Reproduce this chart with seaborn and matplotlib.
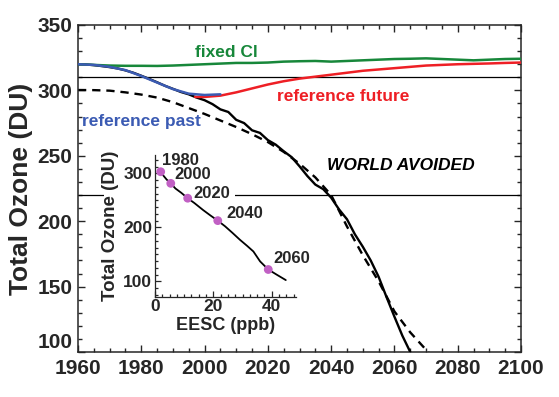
import matplotlib
matplotlib.use("Agg")
import matplotlib.pyplot as plt
from matplotlib.patches import Rectangle
from matplotlib.ticker import MultipleLocator
import seaborn as sns

# main panel, total ozone (DU) against year
fixed_years = [1960, 1965, 1970, 1975, 1980, 1985, 1990, 1995, 2000, 2005, 2010,
               2015, 2020, 2025, 2030, 2035, 2040, 2045, 2050, 2055, 2060, 2065,
               2070, 2075, 2080, 2085, 2090, 2095, 2100]
fixed_cl = [320, 319.5, 319, 318.8, 318.8, 318.7, 319, 319.5, 320, 320.5, 321,
            321, 321.3, 322, 322.3, 322.5, 322, 322.5, 323, 323.5, 324, 324.2,
            324.5, 324, 323.5, 323, 323.5, 324, 324.2]

past_years = [1960, 1965, 1970, 1975, 1980, 1985, 1990, 1995, 2000, 2005]
ref_past = [320, 319.5, 318, 315.5, 311, 306, 301, 297.5, 296.5, 297]

future_years = [1997, 2000, 2005, 2010, 2015, 2020, 2025, 2030, 2035, 2040, 2045,
                2050, 2055, 2060, 2065, 2070, 2075, 2080, 2085, 2090, 2095, 2100]
ref_future = [295, 295, 296, 298.5, 301.5, 304.5, 307, 309, 310.5, 312, 313.5,
              315, 316, 317, 318, 319, 319.5, 320, 320.3, 320.6, 321, 321.3]

avoided_years = [1960, 1962.5, 1965, 1967.5, 1970, 1972.5, 1975, 1977.5, 1980,
                 1982.5, 1985, 1987.5, 1990, 1992.5, 1995, 1997.5, 2000, 2002.5,
                 2005, 2007.5, 2010, 2012.5, 2015, 2017.5, 2020, 2022.5, 2025,
                 2027.5, 2030, 2032.5, 2035, 2037.5, 2040, 2042.5, 2045, 2047.5,
                 2050, 2052.5, 2055, 2057.5, 2060, 2062.5, 2065]
world_avoided = [320, 319.8, 319.3, 318.6, 317.8, 316.8, 315.3, 313.5, 311.2,
                 308.8, 306.2, 303.5, 301.2, 298.8, 297, 294.5, 292.5, 289.5,
                 285.5, 283.5, 277.5, 275, 269.5, 267.5, 262, 258.5, 253.5,
                 249, 242, 234.5, 228, 224.5, 218, 209, 201.5, 190, 180.5, 170,
                 157.5, 142, 127, 112.5, 100]

fit_years = [1960, 1965, 1970, 1975, 1980, 1985, 1990, 1995, 2000, 2005, 2010,
             2015, 2020, 2025, 2030, 2035, 2040, 2045, 2050, 2055, 2060, 2065,
             2071]
ozone_fit = [300.3, 300.2, 299.8, 298.5, 296.8, 294.5, 291, 286.5, 282, 277, 272,
             266.5, 260.5, 253, 244, 233.5, 220, 196, 174, 154, 131, 115, 99]

ref_levels = [310, 220]

# inset, ozone against EESC (ppb)
eesc = [1.5, 1.95, 3, 4, 5.4, 7, 9, 11.2, 13.5, 16.5, 19, 21.5, 24, 26.5, 29.1,
        31.5, 33.7, 36, 38.8, 41.7, 44.8]
eesc_ozone = [308, 303, 295, 288.5, 281.5, 272, 264, 254, 245, 232, 222, 212.5,
              202, 190, 177, 166, 155.4, 137, 122, 112.4, 102.4]
mark_labels = ["1980", "2000", "2020", "2040", "2060"]
mark_eesc = [1.95, 5.4, 11.2, 21.5, 38.8]
mark_ozone = [303, 281.5, 254, 212.5, 122]
mark_offsets = [(1, 8.4), (2.9, 6.5), (4.3, 3.6), (6.5, 5), (3.6, 8)]

GREEN = "#17873a"
BLUE = "#3b5bb3"
RED = "#ee1f25"
PURPLE = "#c160c4"

sns.set_style("ticks")
plt.rcParams["font.family"] = ["Liberation Sans", "DejaVu Sans"]
plt.rcParams["font.weight"] = "bold"

fig = plt.figure(figsize=(5.59, 3.97), dpi=100)
ax = fig.add_axes([78 / 559, 1 - 352 / 397, 443 / 559, 327 / 397])

for lev in ref_levels:
    ax.axhline(lev, color="black", lw=0.9, zorder=1)

# white box behind the inset, hides the reference line there
ax.add_patch(Rectangle((104 / 559, 1 - 300 / 397), 131 / 559, 150 / 397,
                       transform=fig.transFigure, facecolor="white",
                       edgecolor="none", zorder=1.5))

sns.lineplot(x=fit_years, y=ozone_fit, ax=ax, color="black", lw=1.7,
             linestyle=(0, (3.5, 2.5)), zorder=2)
sns.lineplot(x=avoided_years, y=world_avoided, ax=ax, color="black", lw=1.7,
             zorder=3)
sns.lineplot(x=fixed_years, y=fixed_cl, ax=ax, color=GREEN, lw=1.8, zorder=4)
sns.lineplot(x=future_years, y=ref_future, ax=ax, color=RED, lw=1.8, zorder=4)
sns.lineplot(x=past_years, y=ref_past, ax=ax, color=BLUE, lw=1.8, zorder=5)

ax.set_xlim(1960, 2100)
ax.set_ylim(100, 350)
ax.xaxis.set_major_locator(MultipleLocator(20))
ax.xaxis.set_minor_locator(MultipleLocator(5))
ax.yaxis.set_major_locator(MultipleLocator(50))
ax.yaxis.set_minor_locator(MultipleLocator(10))
ax.tick_params(which="both", direction="in", top=True, right=True, width=1,
               labelsize=15, pad=4)
ax.tick_params(axis="x", pad=5)
ax.tick_params(which="major", length=5)
ax.tick_params(which="minor", length=3)
for lab in ax.get_xticklabels() + ax.get_yticklabels():
    lab.set_fontweight("bold")
# lowest y label sits just above the corner, as in the original
for tick in ax.yaxis.get_major_ticks():
    if tick.get_loc() == 100:
        tick.label1.set_verticalalignment("bottom")
for sp in ax.spines.values():
    sp.set_linewidth(1.1)
ax.set_xlabel("")
ax.set_ylabel("Total Ozone (DU)", fontsize=19, fontweight="bold", labelpad=3)

ax.text(2007, 328.6, "fixed Cl", color=GREEN, fontsize=12.5, fontweight="bold",
        ha="center", va="center")
ax.text(1980.2, 276, "reference past", color=BLUE, fontsize=12.5,
        fontweight="bold", ha="center", va="center")
ax.text(2043.8, 295.2, "reference future", color=RED, fontsize=12.5,
        fontweight="bold", ha="center", va="center")
ax.text(2062, 242.4, "WORLD AVOIDED", color="black", fontsize=12.5,
        fontweight="bold", fontstyle="italic", ha="center", va="center")

# inset
axin = fig.add_axes([155 / 559, 1 - 296.5 / 397, 141 / 559, 141.5 / 397])
axin.set_facecolor("none")
sns.lineplot(x=eesc, y=eesc_ozone, ax=axin, color="black", lw=1.3)
sns.scatterplot(x=mark_eesc, y=mark_ozone, ax=axin, color=PURPLE, s=40,
                edgecolor="none", zorder=5)
for lab, xv, yv, off in zip(mark_labels, mark_eesc, mark_ozone, mark_offsets):
    axin.annotate(lab, (xv, yv), xytext=off, textcoords="offset points",
                  fontsize=12, fontweight="bold", ha="left", va="center")

axin.set_xlim(0, 48.3)
axin.set_ylim(72, 334)
axin.xaxis.set_major_locator(MultipleLocator(20))
axin.xaxis.set_minor_locator(MultipleLocator(2.5))
axin.yaxis.set_major_locator(MultipleLocator(100))
axin.yaxis.set_minor_locator(MultipleLocator(12.5))
axin.tick_params(which="both", direction="in", width=0.9, labelsize=12.5,
                 pad=2)
axin.tick_params(which="major", length=4)
axin.tick_params(which="minor", length=2.5)
for lab in axin.get_xticklabels() + axin.get_yticklabels():
    lab.set_fontweight("bold")
axin.spines["top"].set_visible(False)
axin.spines["right"].set_visible(False)
axin.spines["left"].set_linewidth(0.9)
axin.spines["bottom"].set_linewidth(0.9)
axin.set_xlabel("EESC (ppb)", fontsize=13, fontweight="bold", labelpad=2)
axin.set_ylabel("Total Ozone (DU)", fontsize=13.5, fontweight="bold",
                labelpad=3)

fig.savefig("out.png", dpi=100)
